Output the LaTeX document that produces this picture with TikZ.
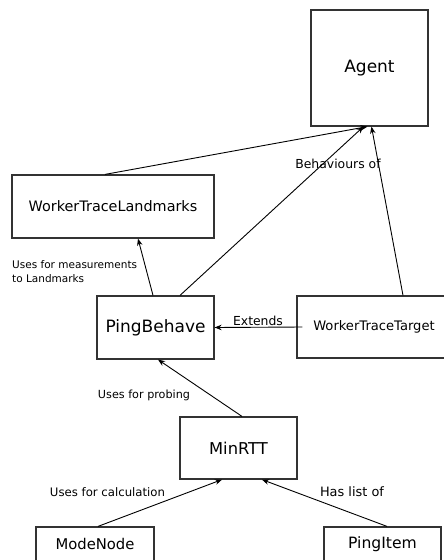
\documentclass[tikz,border=0pt]{standalone}
\usepackage{fontspec}
\setmainfont{DejaVu Sans}
\usetikzlibrary{arrows.meta}
\begin{document}
\begin{tikzpicture}[x=1pt,y=-1pt,
  cls/.style={draw=black!80,line width=1.2pt,rectangle,inner sep=0pt,align=center},
  rel/.style={draw=black,line width=0.9pt,-{Stealth[length=7pt,width=5.5pt]}},
  lbl/.style={inner sep=0pt,text=black}]
\useasboundingbox (0,0) rectangle (444,560);
\clip (0,0) rectangle (444,560);
\fill[white] (0,0) rectangle (444,560);

% classes
\node[cls,minimum width=117pt,minimum height=116pt,font=\fontsize{17}{20}\selectfont] (agent) at (369.5,68) {Agent};
\node[cls,minimum width=202pt,minimum height=63pt,font=\fontsize{14.4}{17}\selectfont] (wtl) at (113,206.5) {WorkerTraceLandmarks};
\node[cls,minimum width=117pt,minimum height=63pt,font=\fontsize{17}{20}\selectfont] (pb) at (155.5,327.5) {PingBehave};
\node[cls,minimum width=154pt,minimum height=62pt,font=\fontsize{13.1}{16}\selectfont] (wtt) at (374,327) {WorkerTraceTarget};
\node[cls,minimum width=117pt,minimum height=62pt,font=\fontsize{16.3}{19}\selectfont] (minrtt) at (238.5,448) {MinRTT};
\node[cls,minimum width=118pt,minimum height=34pt,font=\fontsize{14.8}{17}\selectfont] (mode) at (95,544) {ModeNode};
\node[cls,minimum width=117pt,minimum height=34pt,font=\fontsize{15.6}{18}\selectfont] (item) at (382.5,544) {PingItem};

% relations
\draw[rel] ([xshift=-8pt]wtl.north) -- ([xshift=-2pt]agent.south);
\draw[rel] ([xshift=24.5pt]pb.north) -- ([xshift=-6pt]agent.south);
\draw[rel] ([xshift=29pt]wtt.north) -- ([xshift=2pt]agent.south);
\draw[rel] ([xshift=-2.5pt]pb.north) -- ([xshift=25pt]wtl.south);
\draw[rel] ([xshift=6pt]wtt.west) -- (pb.east);
\draw[rel] ([xshift=3.5pt]minrtt.north) -- ([xshift=2.5pt]pb.south);
\draw[rel] ([xshift=3pt]mode.north) -- ([xshift=-16.5pt]minrtt.south);
\draw[rel] ([xshift=4.5pt]item.north) -- ([xshift=23.5pt]minrtt.south);

% relation labels
\node[lbl,font=\fontsize{12.4}{15}\selectfont] (lbeh) at (338,164) {Behaviours of};
\node[lbl,anchor=west,align=left,font=\fontsize{10.5}{14}\selectfont] (lmeas) at (12,272) {Uses for measurements\\to Landmarks};
\node[lbl,font=\fontsize{12.4}{15}\selectfont] (lext) at (258,321) {Extends};
\node[lbl,font=\fontsize{11.2}{14}\selectfont] (lprobe) at (144,395) {Uses for probing};
\node[lbl,font=\fontsize{11.7}{14}\selectfont] (lcalc) at (107.5,492) {Uses for calculation};
\node[lbl,font=\fontsize{12.9}{15}\selectfont] (llist) at (352,492) {Has list of};
\end{tikzpicture}
\end{document}
